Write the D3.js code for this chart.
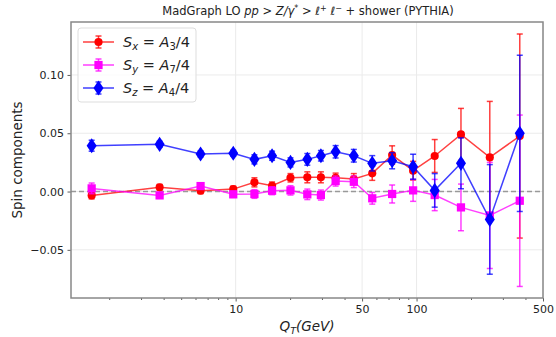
<!DOCTYPE html>
<html>
<head>
<meta charset="utf-8">
<script src="https://cdn.jsdelivr.net/npm/d3@7"></script>
<style>
  body { margin: 0; background: #fff; }
  text { font-family: "DejaVu Sans", sans-serif; }
</style>
</head>
<body>
<div id="chart"></div>
<script>
// bin centres in GeV
const qt = [1.6, 3.8, 6.4, 9.7, 12.7, 15.9, 20.1, 24.9, 29.6, 35.7, 45, 56.9, 73.3, 95.7, 126, 176, 254, 372];

const sx    = [-0.0033, 0.0036, 0.0007, 0.0021, 0.0079, 0.005, 0.0118, 0.0122, 0.0122, 0.0118, 0.0107, 0.0156, 0.0313, 0.0179, 0.0305, 0.049, 0.0293, 0.0476];
const sxErr = [0.003, 0.0025, 0.0025, 0.0025, 0.0039, 0.0032, 0.0036, 0.0047, 0.0047, 0.004, 0.0047, 0.006, 0.0079, 0.008, 0.0141, 0.0223, 0.048, 0.0875];
const sy    = [0.0027, -0.0033, 0.0047, -0.0024, -0.0021, 0.0007, 0.001, -0.0024, -0.003, 0.009, 0.0084, -0.0058, -0.0021, 0.001, -0.003, -0.0136, -0.0205, -0.0079];
const syErr = [0.0046, 0.0025, 0.0025, 0.0026, 0.0037, 0.0034, 0.004, 0.0045, 0.0043, 0.0043, 0.005, 0.005, 0.0077, 0.0094, 0.0134, 0.02, 0.0455, 0.0735];
const sz    = [0.0393, 0.0405, 0.0322, 0.0328, 0.0276, 0.0307, 0.025, 0.0276, 0.0307, 0.0341, 0.0307, 0.0242, 0.0264, 0.0213, 0.001, 0.0242, -0.0239, 0.0499];
const szErr = [0.0047, 0.0026, 0.0026, 0.0026, 0.0039, 0.0039, 0.0039, 0.005, 0.0045, 0.0053, 0.0054, 0.0066, 0.0069, 0.0107, 0.0144, 0.0218, 0.047, 0.067];

const xTicks = [10, 50, 100, 500];
const yTicks = [-0.05, 0, 0.05, 0.10];

const W = 556, H = 337;
const mLeft = 71, mRight = 543, mTop = 22, mBottom = 298;

const svg = d3.select("#chart").append("svg")
  .attr("width", W).attr("height", H);

const x = d3.scaleLog().domain([1.23, 500]).range([mLeft, mRight]);
const y = d3.scaleLinear().domain([-0.0913, 0.1454]).range([mBottom, mTop]);

// grid
const grid = svg.append("g");
grid.selectAll("line.gx").data(xTicks).enter().append("line")
  .attr("x1", d => x(d)).attr("x2", d => x(d))
  .attr("y1", mTop).attr("y2", mBottom)
  .attr("stroke", "#ebebeb").attr("stroke-width", 1);
grid.selectAll("line.gy").data(yTicks).enter().append("line")
  .attr("x1", mLeft).attr("x2", mRight)
  .attr("y1", d => y(d)).attr("y2", d => y(d))
  .attr("stroke", "#ebebeb").attr("stroke-width", 1);

// zero line
svg.append("line")
  .attr("x1", mLeft).attr("x2", mRight)
  .attr("y1", y(0)).attr("y2", y(0))
  .attr("stroke", "#999").attr("stroke-width", 1.5)
  .attr("stroke-dasharray", "5,3");

// axes
const minor = [];
[1, 10, 100].forEach(dec => {
  for (let k = 2; k <= 9; k++) minor.push(k * dec);
});
const minorTicks = minor.filter(v => v >= 1.23 && v < 500 && xTicks.indexOf(v) < 0);

const xAxis = svg.append("g").attr("transform", "translate(0," + mBottom + ")")
  .call(d3.axisBottom(x).tickValues(xTicks).tickFormat(d3.format("d")).tickSize(3.5).tickPadding(3.5));
const xMinor = svg.append("g").attr("transform", "translate(0," + mBottom + ")")
  .call(d3.axisBottom(x).tickValues(minorTicks).tickFormat("").tickSize(2));
const yAxis = svg.append("g").attr("transform", "translate(" + mLeft + ",0)")
  .call(d3.axisLeft(y).tickValues(yTicks).tickFormat(d => d3.format(".2f")(d).replace("-", "\u2212")).tickSize(3.5).tickPadding(3.5));

[xAxis, xMinor, yAxis].forEach(a => {
  a.select(".domain").remove();
  a.selectAll(".tick line").attr("stroke", "#333").attr("stroke-width", 0.8);
  a.selectAll(".tick text").attr("font-size", 11).attr("fill", "#222")
    .style("font-family", "DejaVu Sans");
});

// series
const series = [
  { v: sx, e: sxErr, color: "#ff0000", marker: "circle" },
  { v: sy, e: syErr, color: "#ff00ff", marker: "square" },
  { v: sz, e: szErr, color: "#0000ff", marker: "diamond" }
];

const symbolFor = {
  circle: d3.symbol().type(d3.symbolCircle).size(52),
  square: d3.symbol().type(d3.symbolSquare).size(68),
  diamond: d3.symbol().type(d3.symbolDiamond).size(66)
};

const plot = svg.append("g");
const line = d3.line().x(d => x(d[0])).y(d => y(d[1]));

series.forEach(s => {
  const pts = qt.map((q, i) => [q, s.v[i], s.e[i]]);
  const g = plot.append("g");
  g.selectAll("line.err").data(pts).enter().append("line")
    .attr("x1", d => x(d[0])).attr("x2", d => x(d[0]))
    .attr("y1", d => y(d[1] - d[2])).attr("y2", d => y(d[1] + d[2]))
    .attr("stroke", s.color).attr("stroke-width", 1.5).attr("opacity", 0.75);
  [-1, 1].forEach(sign => {
    g.selectAll("line.cap" + sign).data(pts).enter().append("line")
      .attr("x1", d => x(d[0]) - 3).attr("x2", d => x(d[0]) + 3)
      .attr("y1", d => y(d[1] + sign * d[2])).attr("y2", d => y(d[1] + sign * d[2]))
      .attr("stroke", s.color).attr("stroke-width", 1.5).attr("opacity", 0.75);
  });
  g.append("path").datum(pts).attr("d", line)
    .attr("fill", "none").attr("stroke", s.color).attr("stroke-width", 1.5).attr("opacity", 0.75);
  g.selectAll("path.m").data(pts).enter().append("path")
    .attr("transform", d => "translate(" + x(d[0]) + "," + y(d[1]) + ")" + (s.marker === "diamond" ? " scale(1.15,1)" : ""))
    .attr("d", symbolFor[s.marker])
    .attr("fill", s.color);
});

// frame
svg.append("rect")
  .attr("x", mLeft).attr("y", mTop).attr("width", mRight - mLeft).attr("height", mBottom - mTop)
  .attr("fill", "none").attr("stroke", "#888").attr("stroke-width", 1.5);

// legend
const lg = svg.append("g").attr("transform", "translate(78,28)");
lg.append("rect").attr("width", 118).attr("height", 74).attr("rx", 3)
  .attr("fill", "#fff").attr("fill-opacity", 0.8).attr("stroke", "#ddd");
const labels = [
  { s: "S", sub: "x", a: "A", n: "3" },
  { s: "S", sub: "y", a: "A", n: "7" },
  { s: "S", sub: "z", a: "A", n: "4" }
];
series.forEach((s, i) => {
  const ly = 14 + i * 23;
  const row = lg.append("g").attr("transform", "translate(0," + ly + ")");
  row.append("line").attr("x1", 5).attr("x2", 36).attr("y1", 0).attr("y2", 0)
    .attr("stroke", s.color).attr("stroke-width", 1.5).attr("opacity", 0.75);
  row.append("line").attr("x1", 20.5).attr("x2", 20.5).attr("y1", -6).attr("y2", 6)
    .attr("stroke", s.color).attr("stroke-width", 1.5).attr("opacity", 0.75);
  [-6, 6].forEach(c => row.append("line").attr("x1", 17.5).attr("x2", 23.5).attr("y1", c).attr("y2", c)
    .attr("stroke", s.color).attr("stroke-width", 1.5).attr("opacity", 0.75));
  row.append("path").attr("transform", "translate(20.5,0)" + (s.marker === "diamond" ? " scale(1.15,1)" : ""))
    .attr("d", symbolFor[s.marker]).attr("fill", s.color);
  const L = labels[i];
  const t = row.append("text").attr("x", 45).attr("y", 5).attr("font-size", 14.5).attr("fill", "#222");
  t.append("tspan").attr("font-style", "italic").text(L.s);
  t.append("tspan").attr("font-style", "italic").attr("font-size", 10).attr("dy", 3).text(L.sub);
  t.append("tspan").attr("dy", -3).text(" = ");
  t.append("tspan").attr("font-style", "italic").text(L.a);
  t.append("tspan").attr("font-size", 10).attr("dy", 3).text(L.n);
  t.append("tspan").attr("dy", -3).text("/4");
});

// title
const title = svg.append("text").attr("x", 308).attr("y", 15).attr("text-anchor", "middle")
  .attr("font-size", 11.5).attr("fill", "#222");
title.append("tspan").text("MadGraph LO ");
title.append("tspan").attr("font-style", "italic").text("pp");
title.append("tspan").text(" > ");
title.append("tspan").attr("font-style", "italic").text("Z/\u03b3");
title.append("tspan").attr("font-size", 8).attr("dy", -4).text("*");
title.append("tspan").attr("dy", 4).text(" > ");
title.append("tspan").attr("font-style", "italic").text("\u2113");
title.append("tspan").attr("font-size", 8).attr("dy", -4).text("+");
title.append("tspan").attr("dy", 4).text(" ");
title.append("tspan").attr("font-style", "italic").text("\u2113");
title.append("tspan").attr("font-size", 8).attr("dy", -4).text("\u2212");
title.append("tspan").attr("dy", 4).text("  + shower (PYTHIA)");

// axis labels
const xl = svg.append("text").attr("x", 307).attr("y", 331).attr("text-anchor", "middle")
  .attr("font-size", 13.5).attr("fill", "#222");
xl.append("tspan").attr("font-style", "italic").text("Q");
xl.append("tspan").attr("font-style", "italic").attr("font-size", 9.5).attr("dy", 3).text("T");
xl.append("tspan").attr("font-style", "italic").attr("dy", -3).text("(GeV)");

svg.append("text").attr("transform", "translate(22,160) rotate(-90)")
  .attr("text-anchor", "middle").attr("font-size", 13.5).attr("fill", "#222")
  .text("Spin components");
</script>
</body>
</html>
